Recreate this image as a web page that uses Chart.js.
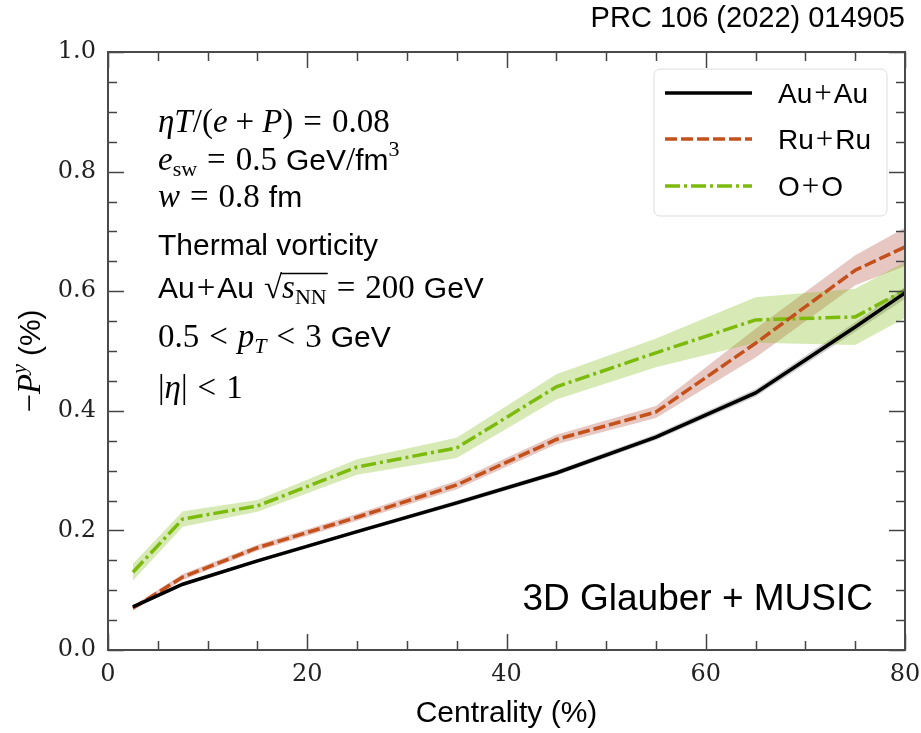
<!DOCTYPE html>
<html lang="en">
<head>
<meta charset="UTF-8">
<title>Global polarization vs centrality</title>
<script src="https://cdn.jsdelivr.net/npm/chart.js"></script>
<style>
  html, body { margin: 0; padding: 0; background: #fff; }
</style>
</head>
<body>
<canvas id="chart" width="921" height="733"></canvas>
<script>
// centrality bin centres (%), last point sits on the axis edge
const centrality = [2.5, 7.5, 15, 25, 35, 45, 55, 65, 75, 80];

// -P^y (%), plus half width of each shaded band
const auau    = [0.072, 0.110, 0.149, 0.198, 0.246, 0.296, 0.356, 0.430, 0.540, 0.597];
const auauErr = [0.003, 0.003, 0.003, 0.003, 0.004, 0.004, 0.005, 0.006, 0.008, 0.010];
const ruru    = [0.070, 0.122, 0.171, 0.222, 0.276, 0.352, 0.398, 0.513, 0.635, 0.674];
const ruruErr = [0.004, 0.005, 0.005, 0.006, 0.007, 0.008, 0.010, 0.024, 0.025, 0.032];
const oo      = [0.130, 0.219, 0.241, 0.306, 0.338, 0.440, 0.497, 0.552, 0.557, 0.602];
const ooErr   = [0.014, 0.013, 0.010, 0.013, 0.017, 0.021, 0.024, 0.038, 0.047, 0.047];

const seriesNames = [['Au', 'Au'], ['Ru', 'Ru'], ['O', 'O']];
const xTicks = [0, 20, 40, 60, 80];
const yTicks = [0.0, 0.2, 0.4, 0.6, 0.8, 1.0];

const pts = (ys) => ys.map((y, i) => ({ x: centrality[i], y: y }));
const shift = (ys, es, s) => ys.map((y, i) => ({ x: centrality[i], y: y + s * es[i] }));

function band(ys, es, color) {
    return [
        { data: shift(ys, es, -1), borderWidth: 0, pointRadius: 0, fill: false },
        { data: shift(ys, es, 1), borderWidth: 0, pointRadius: 0, fill: '-1', backgroundColor: color }
    ];
}

const lineStyles = [
    { color: '#000000', dash: [] },
    { color: '#c4501b', dash: [12, 4] },
    { color: '#7cba0c', dash: [15, 4, 3, 4] }
];

// fonts
const MI = 'italic 33px "Liberation Serif"';
const MR = '33px "Liberation Serif"';
const SS = '30px "Liberation Sans"';
const SUBR = '22px "Liberation Serif"';
const SUBI = 'italic 22px "Liberation Serif"';

// a part is [text, font, dy] or a number meaning horizontal space
function measureRich(ctx, parts) {
    let w = 0;
    parts.forEach(p => {
        if (typeof p === 'number') { w += p; return; }
        ctx.font = p[1]; w += ctx.measureText(p[0]).width;
    });
    return w;
}

function drawRich(ctx, x, y, parts) {
    let cx = x;
    const xs = [];
    parts.forEach(p => {
        xs.push(cx);
        if (typeof p === 'number') { cx += p; return; }
        ctx.font = p[1];
        ctx.fillText(p[0], cx, y + (p[2] || 0));
        cx += ctx.measureText(p[0]).width;
    });
    xs.push(cx);
    return xs;
}

const decorations = {
    id: 'decorations',
    afterDraw(chart) {
        const ctx = chart.ctx;
        const xs = chart.scales.x, ys = chart.scales.y;
        const L = xs.left, R = xs.right, T = ys.top, B = ys.bottom;
        ctx.save();

        // tick marks on all four sides, pointing in
        ctx.strokeStyle = '#444';
        ctx.lineWidth = 1.5;
        ctx.beginPath();
        for (let v = 0; v <= 80; v += 5) {
            const px = Math.round(xs.getPixelForValue(v)) + 0.5;
            const len = v % 20 === 0 ? 16 : 9;
            ctx.moveTo(px, B); ctx.lineTo(px, B - len);
            ctx.moveTo(px, T); ctx.lineTo(px, T + len);
        }
        for (let k = 0; k <= 20; k++) {
            const v = k * 0.05;
            const py = Math.round(ys.getPixelForValue(v)) + 0.5;
            const len = k % 4 === 0 ? 16 : 9;
            ctx.moveTo(L, py); ctx.lineTo(L + len, py);
            ctx.moveTo(R, py); ctx.lineTo(R - len, py);
        }
        ctx.stroke();

        // frame
        ctx.strokeStyle = '#4a4a4a';
        ctx.lineWidth = 2;
        ctx.strokeRect(L, T, R - L, B - T);

        ctx.fillStyle = '#000';
        ctx.textBaseline = 'alphabetic';
        ctx.textAlign = 'left';

        // annotation block
        const x0 = 158;
        drawRich(ctx, x0, 132, [['η', MI], ['T', MI], ['/(', MR], ['e', MI], 8, ['+', MR], 8, ['P', MI], [')', MR], 10, ['=', MR], 10, ['0.08', MR]]);
        drawRich(ctx, x0, 170, [['e', MI], ['sw', SUBR, 6], 10, ['=', MR], 10, ['0.5', MR], 9, ['GeV', SS], ['/', MR], ['fm', SS], ['3', SUBR, -14]]);
        drawRich(ctx, x0, 207, [['w', MI], 10, ['=', MR], 10, ['0.8', MR], 9, ['fm', SS]]);
        drawRich(ctx, x0, 255, [['Thermal vorticity', SS]]);
        const r5 = drawRich(ctx, x0, 298, [['Au', SS], 2, ['+', MR], 2, ['Au', SS], 10, ['√', MR], ['s', MI], ['NN', SUBR, 6], 10, ['=', MR], 10, ['200', MR], 9, ['GeV', SS]]);
        ctx.lineWidth = 1.3;
        ctx.strokeStyle = '#000';
        ctx.beginPath();
        ctx.moveTo(r5[7] - 1, 273.5); ctx.lineTo(r5[9] + 1, 273.5);
        ctx.stroke();
        drawRich(ctx, x0, 347, [['0.5', MR], 10, ['<', MR], 10, ['p', MI], ['T', SUBI, 6], 10, ['<', MR], 10, ['3', MR], 9, ['GeV', SS]]);
        drawRich(ctx, x0, 398, [['|', MR], ['η', MI], ['|', MR], 10, ['<', MR], 10, ['1', MR]]);

        // reference and model labels
        ctx.font = '29px "Liberation Sans"';
        ctx.textAlign = 'right';
        ctx.fillText('PRC 106 (2022) 014905', 905, 27);
        ctx.font = '37px "Liberation Sans"';
        ctx.fillText('3D Glauber + MUSIC', 873, 610);

        // axis titles
        ctx.textAlign = 'left';
        ctx.font = SS;
        const xt = 'Centrality (%)';
        ctx.fillText(xt, (L + R) / 2 - ctx.measureText(xt).width / 2, 722);
        const yParts = [['−', MR], ['P', MI], ['y', SUBI, -14], 8, ['(%)', SS]];
        ctx.save();
        ctx.translate(40, 361);
        ctx.rotate(-Math.PI / 2);
        drawRich(ctx, -measureRich(ctx, yParts) / 2, 0, yParts);
        ctx.restore();

        // legend
        const bx = 654, by = 69, bw = 233, bh = 147;
        ctx.beginPath();
        ctx.roundRect(bx, by, bw, bh, 6);
        ctx.fillStyle = 'rgba(255,255,255,0.85)';
        ctx.fill();
        ctx.strokeStyle = '#dcdcdc';
        ctx.lineWidth = 1;
        ctx.stroke();
        const rows = [93, 139, 186];
        seriesNames.forEach((name, i) => {
            ctx.strokeStyle = lineStyles[i].color;
            ctx.lineWidth = 3.5;
            ctx.setLineDash(lineStyles[i].dash);
            ctx.beginPath();
            ctx.moveTo(665, rows[i]); ctx.lineTo(752, rows[i]);
            ctx.stroke();
            ctx.setLineDash([]);
            ctx.fillStyle = '#000';
            drawRich(ctx, 778, rows[i] + 10, [[name[0], '28px "Liberation Sans"'], 2, ['+', '31px "Liberation Serif"'], 2, [name[1], '28px "Liberation Sans"']]);
        });

        ctx.restore();
    }
};

const ctx = document.getElementById('chart').getContext('2d');
const lines = [auau, ruru, oo].map((ys, i) => ({
    label: seriesNames[i].join('+'),
    data: pts(ys),
    borderColor: lineStyles[i].color,
    borderDash: lineStyles[i].dash,
    borderWidth: 3.5,
    pointRadius: 0,
    fill: false
}));

new Chart(ctx, {
    type: 'line',
    data: {
        datasets: [
            ...lines,
            ...band(oo, ooErr, 'rgba(124,186,12,0.3)'),
            ...band(ruru, ruruErr, 'rgba(175,70,50,0.3)'),
            ...band(auau, auauErr, 'rgba(0,0,0,0.2)')
        ]
    },
    options: {
        responsive: false,
        animation: false,
        layout: { padding: { top: 52, right: 16, left: 0, bottom: 0 } },
        elements: { line: { tension: 0 } },
        plugins: { legend: { display: false }, tooltip: { enabled: false } },
        scales: {
            x: {
                type: 'linear', min: 0, max: 80,
                grid: { display: false, drawTicks: false },
                border: { display: false },
                afterBuildTicks: s => { s.ticks = xTicks.map(v => ({ value: v })); },
                afterFit: s => { s.height = 83; s.paddingLeft = 0; s.paddingRight = 0; },
                ticks: { color: '#222', padding: 10, font: { family: 'DejaVu Serif', size: 24 } }
            },
            y: {
                type: 'linear', min: 0, max: 1,
                grid: { display: false, drawTicks: false },
                border: { display: false },
                afterBuildTicks: s => { s.ticks = yTicks.map(v => ({ value: v })); },
                afterFit: s => { s.width = 108; s.paddingTop = 0; s.paddingBottom = 0; },
                ticks: {
                    color: '#222', padding: 12,
                    font: { family: 'DejaVu Serif', size: 24 },
                    callback: v => v.toFixed(1)
                }
            }
        }
    },
    plugins: [decorations]
});
</script>
</body>
</html>
